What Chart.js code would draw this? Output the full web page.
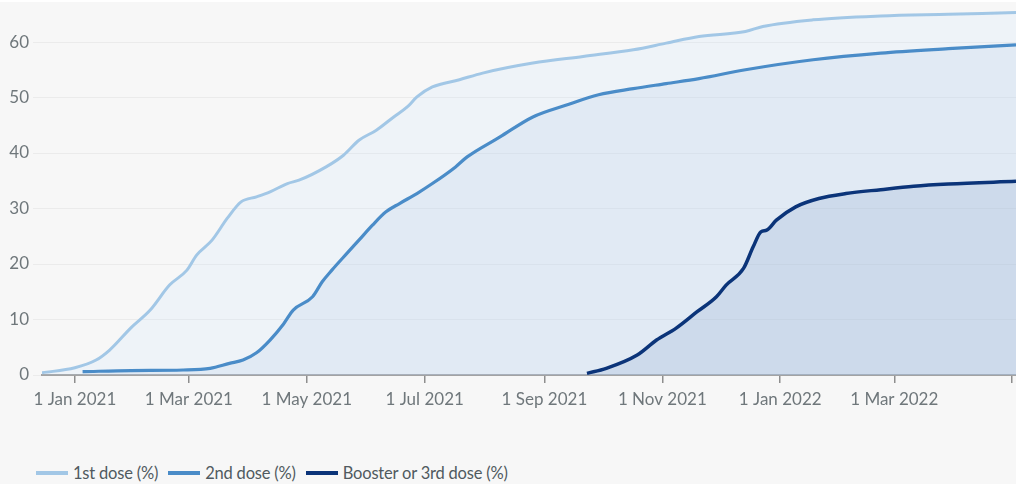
<!DOCTYPE html>
<html>
<head>
<meta charset="utf-8">
<script src="https://cdn.jsdelivr.net/npm/chart.js@4.4.1/dist/chart.umd.min.js"></script>
<style>
    html, body {
        margin: 0;
        padding: 0;
        background: #f7f7f7;
    }
    #wrap {
        position: relative;
        width: 1016px;
        height: 484px;
        overflow: hidden;
    }
    #topStrip {
        position: absolute;
        left: 0;
        top: 0;
        width: 1016px;
        height: 2px;
        background: #fff;
    }
    #uptakeChart {
        position: absolute;
        left: 0;
        top: 0;
    }
    #legend {
        position: absolute;
        left: 36px;
        top: 463px;
        font-family: Lato, 'Noto Sans', sans-serif;
        font-size: 16.5px;
        letter-spacing: -0.2px;
        color: #505a5f;
        display: flex;
        align-items: center;
        white-space: nowrap;
    }
    #legend .item {
        display: flex;
        align-items: center;
        margin-right: 10px;
    }
    #legend .swatch {
        width: 32px;
        height: 4px;
        margin-right: 5px;
    }
</style>
</head>
<body>
<div id="wrap">
    <canvas id="uptakeChart" width="1016" height="420"></canvas>
    <div id="topStrip"></div>
    <div id="legend"></div>
</div>
<script>
// x axis ticks
const tickDates = ['2021-01-01', '2021-03-01', '2021-05-01', '2021-07-01', '2021-09-01', '2021-11-01', '2022-01-01', '2022-03-01', '2022-05-01'];
const tickLabels = ['1 Jan 2021', '1 Mar 2021', '1 May 2021', '1 Jul 2021', '1 Sep 2021', '1 Nov 2021', '1 Jan 2022', '1 Mar 2022', ''];
const yTicks = [0, 10, 20, 30, 40, 50, 60];

// 1st dose (%)
const firstDoseDates = ['2020-12-15', '2021-01-01', '2021-01-12', '2021-01-19', '2021-01-30', '2021-02-09', '2021-02-19', '2021-02-28',
    '2021-03-05', '2021-03-13', '2021-03-21', '2021-03-28', '2021-04-05', '2021-04-12', '2021-04-21', '2021-04-27', '2021-05-11',
    '2021-05-20', '2021-05-28', '2021-06-06', '2021-06-15', '2021-06-22', '2021-06-27', '2021-07-05', '2021-07-19', '2021-07-31',
    '2021-08-26', '2021-09-21', '2021-10-17', '2021-11-03', '2021-11-20', '2021-12-14', '2021-12-23', '2022-01-18', '2022-02-22',
    '2022-03-29', '2022-05-03'];
const firstDoseValues = [0.4, 1.3, 2.7, 4.5, 8.5, 11.7, 16.2, 18.9,
    21.6, 24.3, 28.3, 31.2, 32.1, 33.0, 34.5, 35.1, 37.5,
    39.6, 42.3, 44.1, 46.5, 48.3, 50.1, 51.9, 53.2, 54.4,
    56.2, 57.4, 58.6, 59.8, 61.0, 61.9, 62.8, 64.0, 64.7,
    65.0, 65.3];

// 2nd dose (%)
const secondDoseDates = ['2021-01-05', '2021-01-30', '2021-02-26', '2021-03-12', '2021-03-22', '2021-03-29', '2021-04-05', '2021-04-12',
    '2021-04-19', '2021-04-24', '2021-05-04', '2021-05-09', '2021-05-14', '2021-05-22', '2021-05-28', '2021-06-04', '2021-06-11',
    '2021-06-18', '2021-06-27', '2021-07-05', '2021-07-17', '2021-07-23', '2021-08-09', '2021-08-26', '2021-09-12', '2021-09-29',
    '2021-10-17', '2021-11-03', '2021-11-20', '2021-12-14', '2022-01-18', '2022-02-22', '2022-03-29', '2022-05-03'];
const secondDoseValues = [0.6, 0.8, 0.9, 1.2, 2.1, 2.7, 4.0, 6.3,
    9.2, 11.7, 14.1, 16.8, 18.9, 22.0, 24.3, 27.0, 29.4,
    30.9, 32.7, 34.5, 37.5, 39.3, 42.9, 46.5, 48.6, 50.5,
    51.6, 52.5, 53.4, 55.0, 56.8, 58.0, 58.8, 59.5];

// Booster or 3rd dose (%)
const boosterDates = ['2021-09-23', '2021-10-03', '2021-10-19', '2021-10-29', '2021-11-08', '2021-11-19', '2021-11-29', '2021-12-04',
    '2021-12-13', '2021-12-18', '2021-12-22', '2021-12-25', '2021-12-30', '2022-01-09', '2022-01-21', '2022-02-04', '2022-02-22',
    '2022-03-11', '2022-03-29', '2022-05-03'];
const boosterValues = [0.3, 1.2, 3.6, 6.3, 8.4, 11.4, 14.1, 16.2,
    19.2, 23.1, 25.8, 26.1, 27.9, 30.3, 31.8, 32.7, 33.4,
    34.0, 34.4, 34.9];


// days since 1 Jan 2021
function dayOf(s) {
    const p = s.split('-').map(Number);
    return (Date.UTC(p[0], p[1] - 1, p[2]) - Date.UTC(2021, 0, 1)) / 86400000;
}

function toPoints(dates, values) {
    return dates.map((d, i) => ({ x: dayOf(d), y: values[i] }));
}

const tickFont = { family: 'Lato', size: 17 };
const tickColor = '#6f777b';

const uptakeChart = new Chart(document.getElementById('uptakeChart'), {
    type: 'line',
    data: {
        datasets: [
            {
                label: '1st dose (%)',
                data: toPoints(firstDoseDates, firstDoseValues),
                borderColor: '#a2c7e6',
                backgroundColor: 'rgba(187, 220, 254, 0.15)',
                borderWidth: 3,
                fill: 'origin',
            },
            {
                label: '2nd dose (%)',
                data: toPoints(secondDoseDates, secondDoseValues),
                borderColor: '#4a8cc8',
                backgroundColor: 'rgba(173, 193, 223, 0.2)',
                borderWidth: 3.2,
                fill: 'origin',
            },
            {
                label: 'Booster or 3rd dose (%)',
                data: toPoints(boosterDates, boosterValues),
                borderColor: '#0b3479',
                backgroundColor: 'rgba(145, 170, 200, 0.3)',
                borderWidth: 3.5,
                fill: 'origin',
            }
        ]
    },
    options: {
        responsive: false,
        animation: false,
        elements: {
            point: { radius: 0 },
            line: { cubicInterpolationMode: 'monotone' }
        },
        layout: {
            padding: { top: 4, right: 0, bottom: 0, left: 0 }
        },
        plugins: {
            legend: { display: false },
            tooltip: { enabled: false },
            filler: { drawTime: 'beforeDatasetsDraw' }
        },
        scales: {
            x: {
                type: 'linear',
                min: dayOf('2020-12-15'),
                max: dayOf('2022-05-03'),
                afterBuildTicks: (scale) => {
                    scale.ticks = tickDates.map(d => ({ value: dayOf(d) }));
                },
                afterFit: (scale) => {
                    scale.height = 45;
                    scale.paddingLeft = 0;
                    scale.paddingRight = 0;
                },
                ticks: {
                    autoSkip: false,
                    maxRotation: 0,
                    padding: 6,
                    color: tickColor,
                    font: tickFont,
                    callback: (value, index) => tickLabels[index]
                },
                grid: {
                    drawOnChartArea: false,
                    drawTicks: true,
                    tickLength: 8,
                    color: '#8e8e8e',
                    lineWidth: 1.5
                },
                border: {
                    display: true,
                    color: '#a3a3a3',
                    width: 2
                }
            },
            y: {
                min: 0,
                max: 66.85,
                afterBuildTicks: (scale) => {
                    scale.ticks = yTicks.map(v => ({ value: v }));
                },
                afterFit: (scale) => {
                    scale.width = 42;
                    scale.paddingTop = 0;
                    scale.paddingBottom = 0;
                },
                ticks: {
                    padding: 4,
                    color: tickColor,
                    font: tickFont
                },
                grid: {
                    color: '#ebebeb',
                    lineWidth: 1,
                    tickLength: 9
                },
                border: { display: false }
            }
        }
    }
});

// html legend built from the chart's datasets
const legendEl = document.getElementById('legend');
uptakeChart.data.datasets.forEach(ds => {
    const item = document.createElement('div');
    item.className = 'item';
    const sw = document.createElement('span');
    sw.className = 'swatch';
    sw.style.background = ds.borderColor;
    const txt = document.createElement('span');
    txt.textContent = ds.label;
    item.appendChild(sw);
    item.appendChild(txt);
    legendEl.appendChild(item);
});
</script>
</body>
</html>
